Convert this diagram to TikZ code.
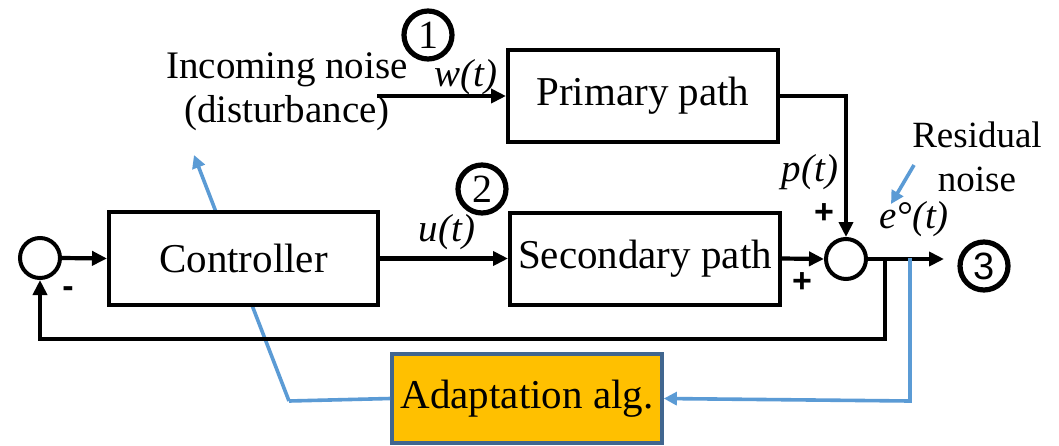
\documentclass[tikz,border=0pt]{standalone}
\usepackage{fontspec}
\setmainfont{Liberation Serif}
\newfontfamily\sansf{Liberation Sans}
\usetikzlibrary{arrows.meta,backgrounds}
\definecolor{ablue}{HTML}{5B9BD5}
\definecolor{aorange}{HTML}{FFC000}
\definecolor{aborder}{HTML}{41668F}
\begin{document}
\begin{tikzpicture}[x=0.5pt,y=-0.5pt,
  blk/.style={draw, line width=2pt, fill=white, inner sep=0pt, font=\fontsize{20.5}{24}\selectfont},
  sumc/.style={draw, circle, line width=2pt, fill=white, minimum size=20pt, inner sep=0pt},
  numc/.style={draw, circle, line width=2.6pt, minimum size=24pt, inner sep=0pt, font=\fontsize{20}{22}\selectfont},
  sig/.style={line width=2.1pt, -{Triangle[length=7.5pt,width=7pt]}},
  bsig/.style={line width=1.8pt, draw=ablue, -{Triangle[length=6.5pt,width=6.5pt]}, color=ablue},
  bline/.style={line width=1.8pt, draw=ablue},
  lbl/.style={inner sep=0pt, font=\fontsize{19.5}{22}\selectfont},
  pm/.style={inner sep=0pt, font=\sansf\bfseries\fontsize{17}{20}\selectfont}
]
\useasboundingbox (0,0) rectangle (1059,445);
\fill[white] (0,0) rectangle (1059,445);
% blue coordinates and line behind controller
\coordinate (bl1) at (289,401);
\coordinate (bltip) at (194,155);
\draw[bsig] (bl1) -- (bltip);

% blocks
\node[blk, minimum width=135pt, minimum height=46pt] (prim) at (643,96) {Primary path};
\node[blk, minimum width=135pt, minimum height=46pt] (sec) at (645,258.5) {Secondary path};
\node[blk, minimum width=134.5pt, minimum height=46.5pt] (ctrl) at (243.5,258.5) {Controller};
\node[draw=aborder, fill=aorange, line width=1.8pt, minimum width=135pt, minimum height=44.5pt, inner sep=0pt, font=\fontsize{20.5}{24}\selectfont] (adapt) at (527,398.5) {Adaptation alg.};

\node[sumc] (sum) at (846,259) {};
\node[sumc] (lc) at (40,258) {};

\node[numc] (n1) at (428,35) {1};
\node[numc] (n2) at (482,189) {2};
\node[numc, font=\sansf\fontsize{19}{22}\selectfont] (n3) at (984,266) {3};

% text labels
\node[lbl, align=center] (inc) at (287,92) {Incoming noise\\(disturbance)};
\node[lbl, align=center, font=\fontsize{18.5}{22}\selectfont] (res) at (977,157) {Residual\\noise};
\node[lbl] (wl) at (466,77) {\textit{w(t)}};
\node[lbl] (ul) at (447,232) {\textit{u(t)}};
\node[lbl] (pl) at (810,172) {\textit{p(t)}};
\node[lbl] (el) at (914,219) {\textit{e°(t)}};
\node[pm] (plus1) at (824,214) {+};
\node[pm] (plus2) at (802,283) {+};
\node[pm] (minus) at (68,292) {-};

% coordinates
\coordinate (win) at (377,96);
\coordinate (outtip) at (944,259);
\coordinate (fb) at (885,259);
\coordinate (fbb) at (885,339);
\coordinate (eb1) at (910,258);
\coordinate (eb2) at (910,401);
\coordinate (r1) at (914,165);
\coordinate (r2) at (891,204);

% black connectors
\draw[sig] (win) -- (prim.west);
\draw[sig] (prim.east) -| (sum.north);
\draw[sig] (sec.east) -- (sum.west);
\draw[sig] (sum.east) -- (outtip);
\draw[sig] (fb) -- (fbb) -| (lc.south);
\draw[sig] (lc.east) -- (ctrl.west);
\draw[sig] (ctrl.east) -- (sec.west);

% blue connectors
\draw[bline] (bl1) -- (adapt.west);
\draw[bsig] (eb1) -- (eb2) -- (adapt.east);
\draw[bsig] (r1) -- (r2);
\end{tikzpicture}
\end{document}
